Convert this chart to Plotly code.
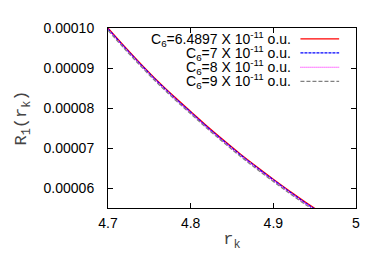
import plotly.graph_objects as go

r_k = [4.70, 4.72, 4.74, 4.76, 4.78, 4.80, 4.82, 4.84, 4.86, 4.88, 4.90, 4.92, 4.94, 4.96]
scale = 1e-5
R_c6_64897 = [10.00, 9.54, 9.10, 8.68, 8.29, 7.92, 7.55, 7.20, 6.86, 6.54, 6.23, 5.93, 5.64, 5.37]
R_c6_7 = [9.98, 9.52, 9.08, 8.66, 8.27, 7.90, 7.53, 7.18, 6.84, 6.52, 6.21, 5.91, 5.62, 5.35]
R_c6_8 = [9.96, 9.50, 9.06, 8.64, 8.25, 7.88, 7.51, 7.16, 6.82, 6.50, 6.19, 5.89, 5.60, 5.33]
R_c6_9 = [9.94, 9.48, 9.04, 8.62, 8.23, 7.86, 7.49, 7.14, 6.80, 6.48, 6.17, 5.87, 5.58, 5.31]

labels = [
    "C<sub>6</sub>=6.4897 X 10<sup>-11</sup> o.u.",
    "C<sub>6</sub>=7 X 10<sup>-11</sup> o.u.",
    "C<sub>6</sub>=8 X 10<sup>-11</sup> o.u.",
    "C<sub>6</sub>=9 X 10<sup>-11</sup> o.u.",
]
colors = ["#ff0000", "#0000ff", "#ff00ff", "#808080"]
dashes = ["solid", "3px,1px", "1px,1px", "4px,2px"]

x_tickvals = [4.7, 4.8, 4.9, 5.0]
x_ticktext = ["4.7", "4.8", "4.9", "5"]
y_tickvals = [0.00006, 0.00007, 0.00008, 0.00009, 0.00010]

series = [R_c6_64897, R_c6_7, R_c6_8, R_c6_9]

fig = go.Figure()
for s, lab, c, d in zip(series, labels, colors, dashes):
    fig.add_trace(go.Scatter(
        x=r_k, y=[v * scale for v in s], mode="lines", name=lab,
        line=dict(color=c, width=1.2, dash=d, shape="spline"), showlegend=False,
    ))

font = dict(family="Liberation Sans, Arial, sans-serif", size=14, color="#000")
mono = "Liberation Mono, Courier New, monospace"

# manual gnuplot-style legend (text right-aligned, sample on right)
row_y = [0.94, 0.862, 0.782, 0.704]
for lab, c, d, yy in zip(labels, colors, dashes, row_y):
    fig.add_annotation(xref="paper", yref="paper", x=0.745, y=yy, text=lab,
                       showarrow=False, xanchor="right", yanchor="middle",
                       font=dict(family="Liberation Sans, Arial, sans-serif", size=14, color="#000"))
    fig.add_shape(type="line", xref="paper", yref="paper", x0=0.776, x1=0.932,
                  y0=yy, y1=yy, line=dict(color=c, width=1.2, dash=d))

fig.update_layout(
    width=374, height=262,
    margin=dict(l=98, r=26, t=17, b=62),
    paper_bgcolor="white", plot_bgcolor="white",
    font=font,
    xaxis=dict(
        range=[4.7, 5.0], tickvals=x_tickvals, ticktext=x_ticktext,
        ticks="inside", ticklen=5, tickcolor="#000", showline=True, linecolor="#000",
        linewidth=1, mirror="allticks", showgrid=False, zeroline=False,
        ticklabelstandoff=2,
        title=dict(text="r<sub>k</sub>", font=dict(family=mono, size=17, color="#444"), standoff=2),
    ),
    yaxis=dict(
        range=[0.0000551, 0.00010], tickvals=y_tickvals, tickformat=".5f",
        ticks="inside", ticklen=5, tickcolor="#000", showline=True, linecolor="#000",
        linewidth=1, mirror="allticks", showgrid=False, zeroline=False,
        ticklabelstandoff=10,
        title=dict(text="R<sub>1</sub>(r<sub>k</sub>)", font=dict(family=mono, size=17, color="#444"), standoff=12),
    ),
)

fig.write_html("out.html")
